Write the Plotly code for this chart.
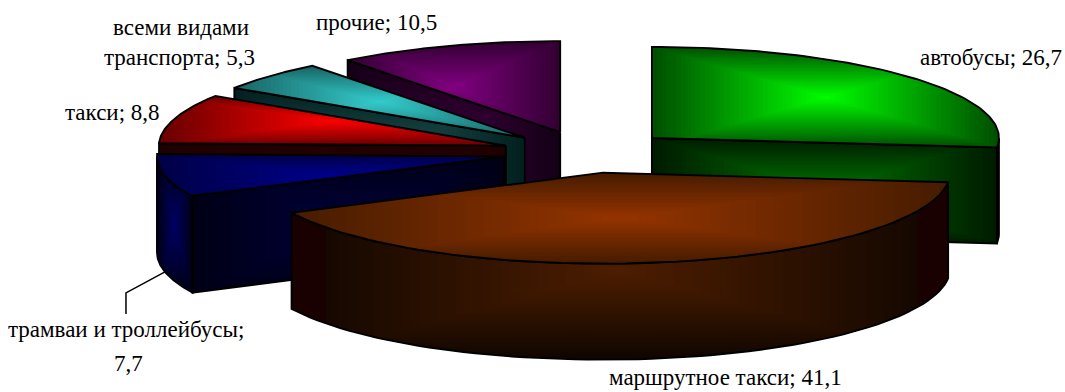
import math
import plotly.graph_objects as go

# Shares of passenger transport, percent, in drawing order around the pie (clockwise from 12 o'clock)
categories = ["автобусы", "маршрутное такси", "трамваи и троллейбусы", "такси",
              "всеми видами транспорта", "прочие"]
values = [26.7, 41.1, 7.7, 8.8, 5.3, 10.5]

# How each category name wraps in its label
label_breaks = {"всеми видами транспорта": ["всеми видами", "транспорта; {v}"],
                "трамваи и троллейбусы": ["трамваи и троллейбусы;", "{v}"]}

# Pie geometry on the pixel-sized axes
CX, CY = 588, 152
RX, RY = 347, 91
DEPTH = 96
EXPLODE_X, EXPLODE_Y = 86, 21

# (centre colour, edge colour) for top surface and side wall of each slice
top_colors = [((0, 255, 0), (0, 80, 0)), ((150, 52, 0), (70, 28, 0)), ((0, 0, 140), (0, 0, 70)),
              ((255, 0, 0), (105, 0, 0)), ((52, 205, 205), (25, 100, 100)), ((130, 0, 130), (50, 0, 50))]
wall_colors = [((0, 118, 0), (0, 28, 0)), ((78, 30, 0), (16, 6, 0)), ((0, 0, 60), (0, 0, 22)),
               ((58, 0, 0), (30, 0, 0)), ((32, 85, 85), (3, 32, 32)), ((58, 0, 58), (20, 0, 22))]
rim_colors = {2: ((0, 0, 100), (0, 0, 22))}

# Label anchors: (centre x, centre y) per line
label_positions = [[(991, 57.5)], [(725, 377.5)], [(126, 329.5), (128, 363)], [(112, 112.5)],
                   [(181, 27.5), (179, 57.5)], [(376, 22.5)]]
FONT = "Liberation Serif"
FONT_SIZE = 23
STEPS = 36


def clip_rect(poly, x0, x1, y0, y1):
    """Sutherland-Hodgman clip of a polygon against an axis-aligned rectangle."""
    planes = [(lambda p: p[0] >= x0, lambda a, b: (x0, a[1] + (b[1] - a[1]) * (x0 - a[0]) / (b[0] - a[0]))),
              (lambda p: p[0] <= x1, lambda a, b: (x1, a[1] + (b[1] - a[1]) * (x1 - a[0]) / (b[0] - a[0]))),
              (lambda p: p[1] >= y0, lambda a, b: (a[0] + (b[0] - a[0]) * (y0 - a[1]) / (b[1] - a[1]), y0)),
              (lambda p: p[1] <= y1, lambda a, b: (a[0] + (b[0] - a[0]) * (y1 - a[1]) / (b[1] - a[1]), y1))]
    for inside, cross in planes:
        out = []
        for j, p in enumerate(poly):
            q = poly[(j + 1) % len(poly)]
            if inside(p):
                out.append(p)
                if not inside(q):
                    out.append(cross(p, q))
            elif inside(q):
                out.append(cross(p, q))
        poly = out
        if not poly:
            break
    return poly


def mix(a, b, t):
    return "rgb(%d,%d,%d)" % tuple(round(a[k] + (b[k] - a[k]) * t) for k in range(3))


fig = go.Figure()


def add_poly(poly, fill=None, outline=False):
    xs = [p[0] for p in poly] + [poly[0][0]]
    ys = [p[1] for p in poly] + [poly[0][1]]
    fig.add_trace(go.Scatter(
        x=xs, y=ys, mode="lines", hoverinfo="skip", showlegend=False,
        fill="toself" if fill else "none", fillcolor=fill,
        line=dict(color="black", width=1.9) if outline else dict(width=0)))


def add_face(poly, colors):
    """Rectangular gradient: nested clips of the face, brightening towards its box centre."""
    center, edge = colors
    xs = [p[0] for p in poly]
    ys = [p[1] for p in poly]
    mx, my = (min(xs) + max(xs)) / 2, (min(ys) + max(ys)) / 2
    hw, hh = (max(xs) - min(xs)) / 2, (max(ys) - min(ys)) / 2
    for k in range(STEPS):
        s = 1 - k / STEPS
        part = clip_rect(poly, mx - hw * s, mx + hw * s, my - hh * s, my + hh * s)
        if len(part) >= 3:
            add_poly(part, fill=mix(center, edge, s))


def add_outline(poly):
    add_poly(poly, outline=True)


total = sum(values)
spans = []
start = 0.0
for v in values:
    spans.append((start, start + 360 * v / total))
    start += 360 * v / total


def arc(cx, cy, a0, a1, n=70, dy=0):
    pts = []
    for j in range(n + 1):
        t = math.radians(a0 + (a1 - a0) * j / n)
        pts.append((cx + RX * math.sin(t), cy - RY * math.cos(t) + dy))
    return pts


def slice_centre(i):
    mid = math.radians(sum(spans[i]) / 2)
    return CX + EXPLODE_X * math.sin(mid), CY - EXPLODE_Y * math.cos(mid)


# Painter's order: far slices first, the large front slice last
for i in [5, 4, 3, 2, 0, 1]:
    a0, a1 = spans[i]
    cx, cy = slice_centre(i)

    # Radial cut faces that turn towards the viewer
    cuts = []
    if i in (2, 3, 4, 5):
        cuts.append(a0)
    if i == 0:
        cuts.append(a1)
    for a in cuts:
        t = math.radians(a)
        rx, ry = cx + RX * math.sin(t), cy - RY * math.cos(t)
        face = [(cx, cy), (rx, ry), (rx, ry + DEPTH), (cx, cy + DEPTH)]
        add_face(face, wall_colors[i])
        add_outline(face)

    # Outer wall on the front half of the ellipse
    lo, hi = max(a0, 90), min(a1, 270)
    if hi > lo:
        wall = arc(cx, cy, lo, hi) + arc(cx, cy, hi, lo, dy=DEPTH)
        add_face(wall, rim_colors.get(i, wall_colors[i]))
        if i == 1:
            # The two outermost wall segments are a flat, darker shade
            for x0, x1 in ((0, 326), (917, 1065)):
                part = clip_rect(wall, x0, x1, 0, 392)
                add_poly(part, fill="rgb(24,1,0)")
        add_outline(wall)

    # Top surface
    top = [(cx, cy)] + arc(cx, cy, a0, a1)
    add_face(top, top_colors[i])
    add_outline(top)

# Leader line for the tram and trolleybus label
cx, cy = slice_centre(2)
mid = math.radians(sum(spans[2]) / 2)
lx, ly = cx + RX * math.sin(mid), cy - RY * math.cos(mid) + DEPTH
fig.add_trace(go.Scatter(x=[lx, lx - 39, lx - 39], y=[ly, ly + 21, ly + 42], mode="lines",
                         hoverinfo="skip", showlegend=False, line=dict(color="black", width=1.5)))

# Data labels, one annotation per text line
for name, v, places in zip(categories, values, label_positions):
    vt = str(v).replace(".", ",")
    lines = [l.format(v=vt) for l in label_breaks.get(name, ["{n}; {v}".format(n=name, v=vt)])]
    for line, (x, y) in zip(lines, places):
        fig.add_annotation(x=x, y=y, text=line, showarrow=False, xanchor="center", yanchor="middle",
                           font=dict(family=FONT, size=FONT_SIZE, color="black"))

fig.update_layout(
    width=1065, height=392, margin=dict(l=0, r=0, t=0, b=0),
    paper_bgcolor="white", plot_bgcolor="white", showlegend=False,
    xaxis=dict(range=[0, 1065], visible=False, fixedrange=True),
    yaxis=dict(range=[392, 0], visible=False, fixedrange=True),
)
fig.write_html("out.html", config=dict(displayModeBar=False))
